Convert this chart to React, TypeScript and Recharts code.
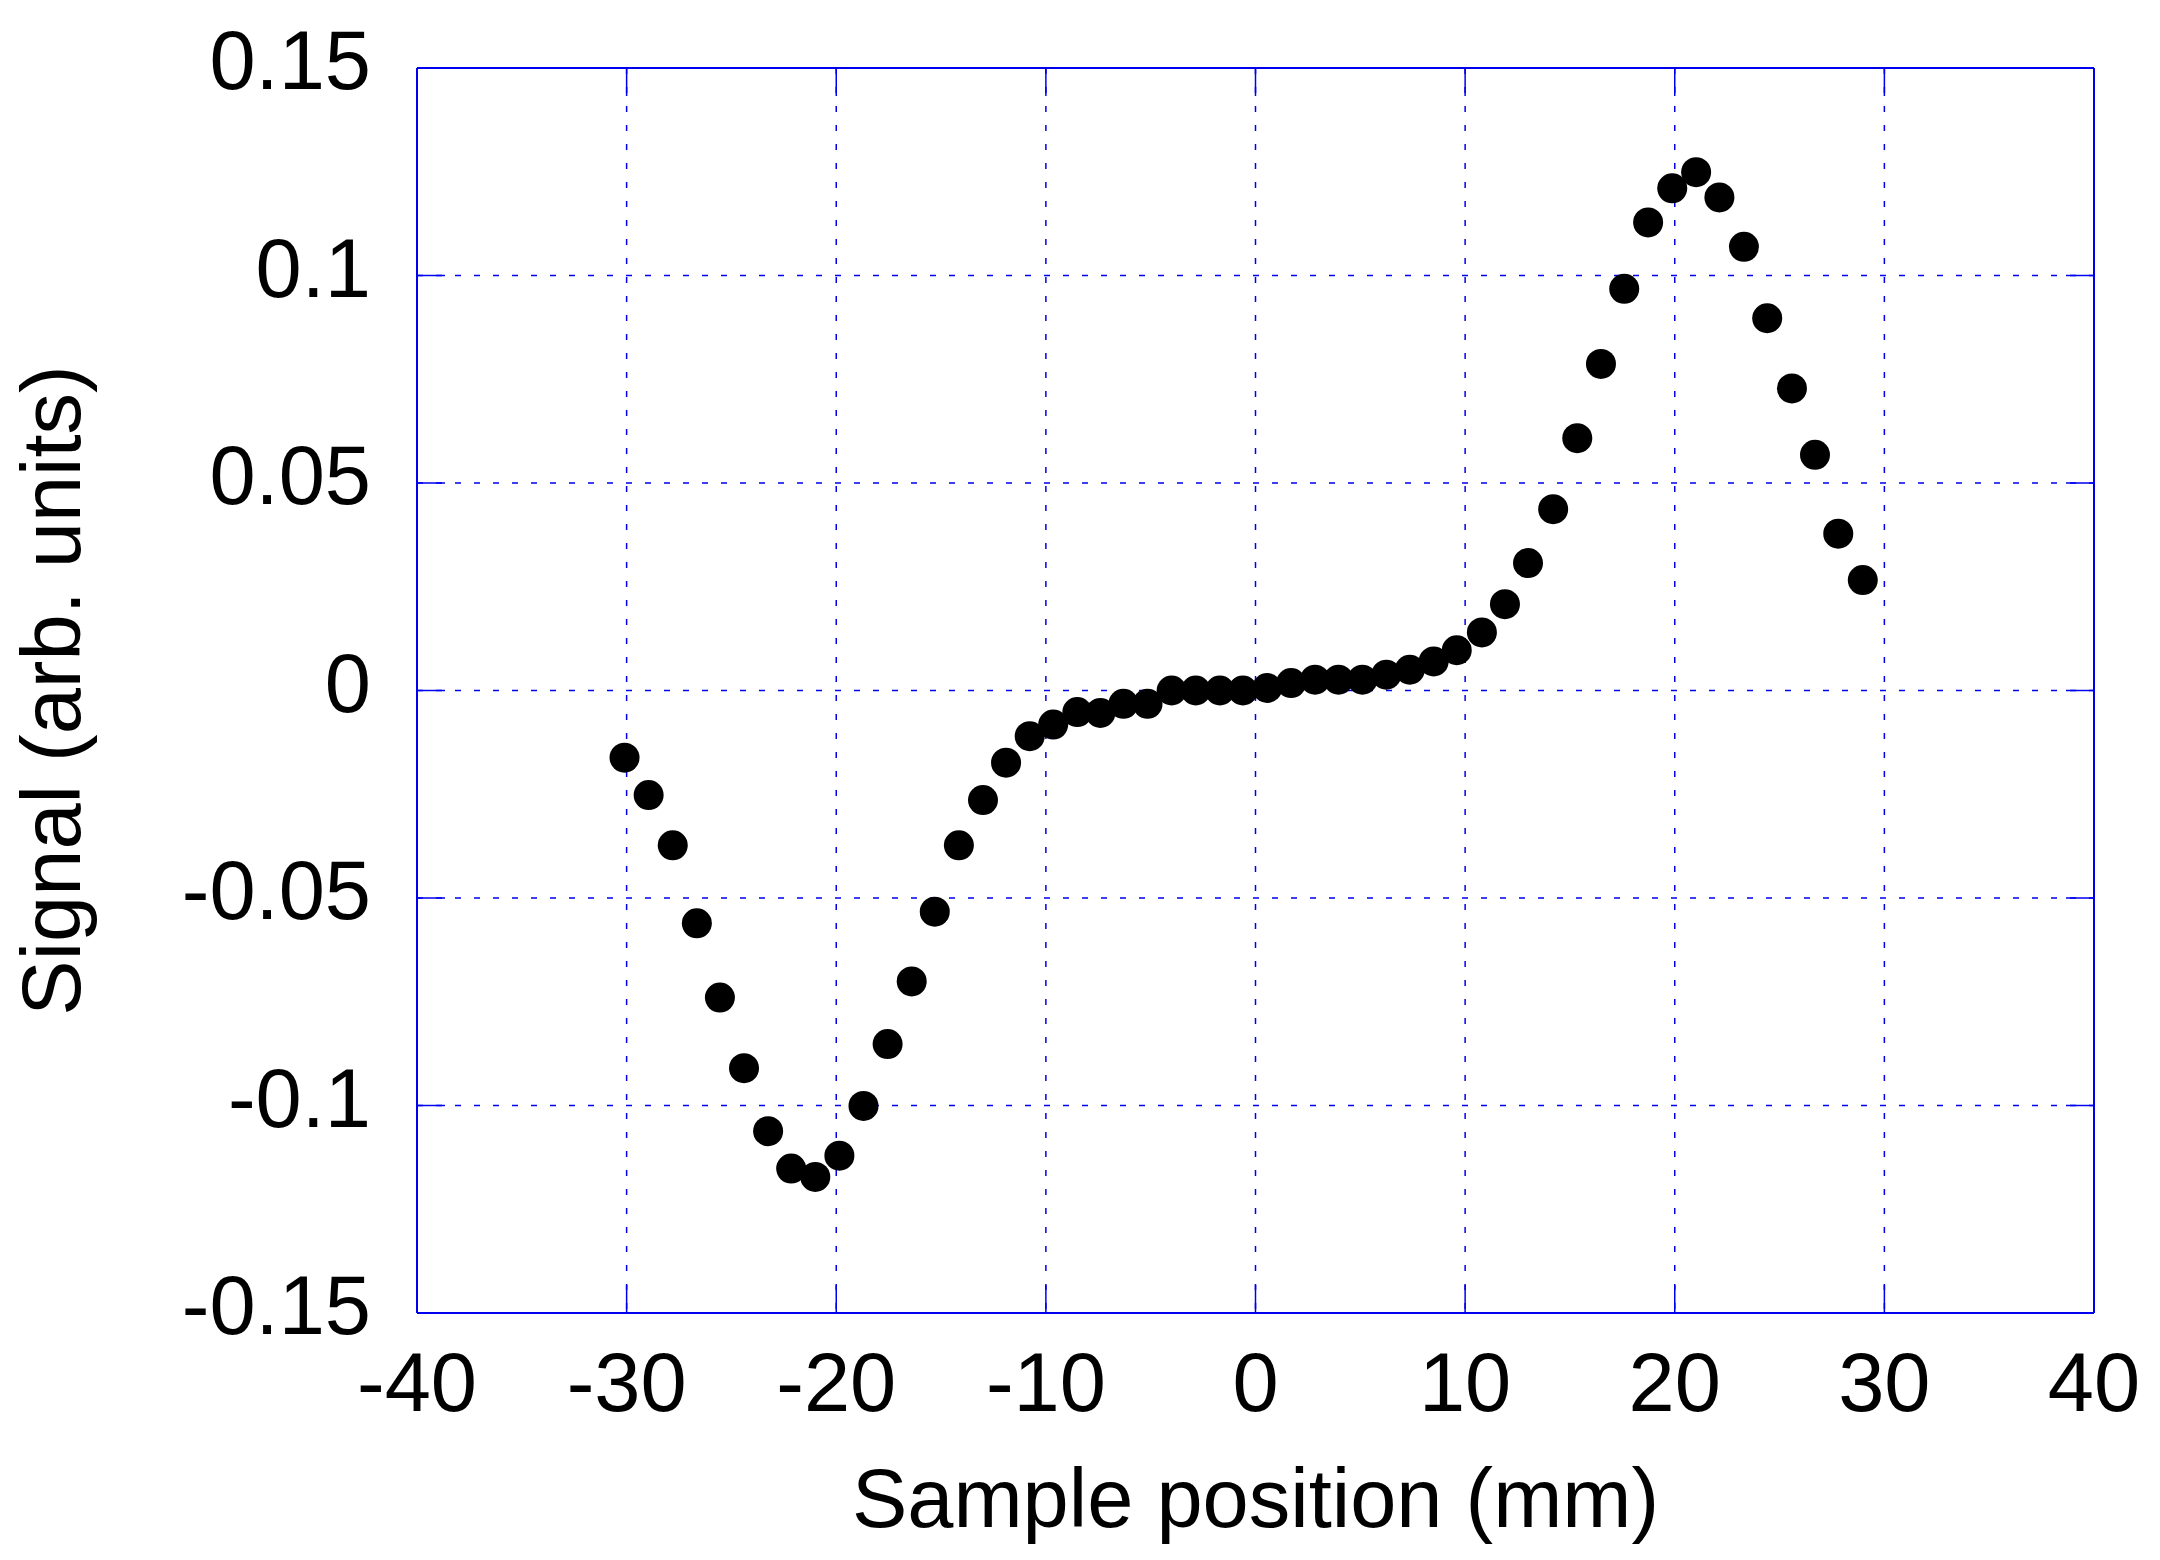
import React from "react";
import {
  ScatterChart,
  Scatter,
  XAxis,
  YAxis,
  CartesianGrid,
  Label,
} from "recharts";

const positionsMm = [
  -30.1, -28.95, -27.8, -26.65, -25.55, -24.4, -23.25, -22.15, -21.0, -19.85,
  -18.7, -17.55, -16.4, -15.3, -14.15, -13.0, -11.9, -10.77, -9.65, -8.5,
  -7.4, -6.3, -5.15, -4.0, -2.85, -1.7, -0.6, 0.56, 1.7, 2.84,
  3.96, 5.1, 6.24, 7.36, 8.5, 9.6, 10.8, 11.9, 13.0, 14.2,
  15.35, 16.48, 17.59, 18.73, 19.88, 21.02, 22.13, 23.3, 24.41, 25.59,
  26.69, 27.8, 28.97,
];

const signalValues = [
  -0.0162, -0.0252, -0.0373, -0.0561, -0.074, -0.091, -0.1062, -0.1152, -0.1172, -0.1121,
  -0.1001, -0.0852, -0.0701, -0.0533, -0.0373, -0.0264, -0.0174, -0.011, -0.0082, -0.0052,
  -0.0054, -0.0032, -0.0032, 0.0, 0.0, 0.0, 0.0, 0.0006, 0.0018, 0.0026,
  0.0026, 0.0026, 0.0038, 0.005, 0.007, 0.0097, 0.014, 0.0208, 0.0307, 0.0437,
  0.0608, 0.0787, 0.0968, 0.1128, 0.121, 0.1249, 0.1188, 0.1069, 0.0897, 0.0728,
  0.0568, 0.0378, 0.0266,
];

const xTicks = [-40, -30, -20, -10, 0, 10, 20, 30, 40];
const yTicks = [-0.15, -0.1, -0.05, 0, 0.05, 0.1, 0.15];
const yTickLabels = ["-0.15", "-0.1", "-0.05", "0", "0.05", "0.1", "0.15"];

const xTitle = "Sample position (mm)";
const yTitle = "Signal (arb. units)";

const data = positionsMm.map((x, i) => ({ x, y: signalValues[i] }));

const FONT = "'Liberation Sans', Arial, Helvetica, sans-serif";
const FONT_SIZE = 83;
const BLUE = "#0000ee";
const TICK_LEN = 28;

const BottomTick = (props: any) => {
  const { x, y, payload } = props;
  return (
    <g>
      <line x1={x} y1={y} x2={x} y2={y - TICK_LEN} stroke={BLUE} strokeWidth={1.5} />
      <text x={x} y={y + 98} textAnchor="middle" fontFamily={FONT} fontSize={FONT_SIZE} fill="#000">
        {String(payload.value)}
      </text>
    </g>
  );
};

const TopTick = (props: any) => {
  const { x, y } = props;
  return <line x1={x} y1={y} x2={x} y2={y + TICK_LEN} stroke={BLUE} strokeWidth={1.5} />;
};

const LeftTick = (props: any) => {
  const { x, y, payload } = props;
  const idx = yTicks.findIndex((t) => Math.abs(t - payload.value) < 1e-9);
  const label = idx >= 0 ? yTickLabels[idx] : String(payload.value);
  return (
    <g>
      <line x1={x} y1={y} x2={x + TICK_LEN} y2={y} stroke={BLUE} strokeWidth={1.5} />
      <text x={x - 46} y={y + 21} textAnchor="end" fontFamily={FONT} fontSize={FONT_SIZE} fill="#000">
        {label}
      </text>
    </g>
  );
};

const RightTick = (props: any) => {
  const { x, y } = props;
  return <line x1={x} y1={y} x2={x - TICK_LEN} y2={y} stroke={BLUE} strokeWidth={1.5} />;
};

const XTitle = (props: any) => {
  const vb = props.viewBox || {};
  const cx = vb.x + vb.width / 2;
  return (
    <text x={cx} y={vb.y + 214} textAnchor="middle" fontFamily={FONT} fontSize={FONT_SIZE} fill="#000">
      {xTitle}
    </text>
  );
};

const YTitle = (props: any) => {
  const vb = props.viewBox || {};
  const cy = vb.y + vb.height / 2;
  const bx = 80;
  return (
    <text
      x={bx}
      y={cy}
      transform={`rotate(-90, ${bx}, ${cy})`}
      textAnchor="middle"
      fontFamily={FONT}
      fontSize={FONT_SIZE}
      fill="#000"
    >
      {yTitle}
    </text>
  );
};

const Dot = (props: any) => {
  const { cx, cy } = props;
  return <circle cx={cx} cy={cy} r={15} fill="#000" />;
};

export default function App() {
  return (
    <div style={{ position: "absolute", left: 0, top: 0, background: "#fff" }}>
      <ScatterChart
        width={2160}
        height={1560}
        margin={{ top: 67, right: 65, left: 0, bottom: 0 }}
      >
        <CartesianGrid
          xAxisId="b"
          yAxisId="l"
          stroke={BLUE}
          strokeWidth={1.5}
          strokeDasharray="6 13"
          horizontalValues={yTicks}
          verticalValues={xTicks}
        />
        <XAxis
          xAxisId="b"
          type="number"
          dataKey="x"
          domain={[-40, 40]}
          ticks={xTicks}
          allowDataOverflow
          orientation="bottom"
          height={247}
          tickSize={0}
          tickMargin={0}
          tickLine={false}
          axisLine={{ stroke: BLUE, strokeWidth: 2 }}
          tick={<BottomTick />}
          interval={0}
        >
          <Label content={<XTitle />} />
        </XAxis>
        <XAxis
          xAxisId="t"
          type="number"
          dataKey="x"
          domain={[-40, 40]}
          ticks={xTicks}
          allowDataOverflow
          orientation="top"
          height={1}
          tickSize={0}
          tickMargin={0}
          tickLine={false}
          axisLine={{ stroke: BLUE, strokeWidth: 2 }}
          tick={<TopTick />}
          interval={0}
        />
        <YAxis
          yAxisId="l"
          type="number"
          dataKey="y"
          domain={[-0.15, 0.15]}
          ticks={yTicks}
          allowDataOverflow
          orientation="left"
          width={417}
          tickSize={0}
          tickMargin={0}
          tickLine={false}
          axisLine={{ stroke: BLUE, strokeWidth: 2 }}
          tick={<LeftTick />}
          interval={0}
        >
          <Label content={<YTitle />} />
        </YAxis>
        <YAxis
          yAxisId="r"
          type="number"
          dataKey="y"
          domain={[-0.15, 0.15]}
          ticks={yTicks}
          allowDataOverflow
          orientation="right"
          width={1}
          tickSize={0}
          tickMargin={0}
          tickLine={false}
          axisLine={{ stroke: BLUE, strokeWidth: 2 }}
          tick={<RightTick />}
          interval={0}
        />
        <Scatter
          data={data}
          xAxisId="b"
          yAxisId="l"
          fill="#000"
          shape={<Dot />}
          isAnimationActive={false}
        />
      </ScatterChart>
    </div>
  );
}
